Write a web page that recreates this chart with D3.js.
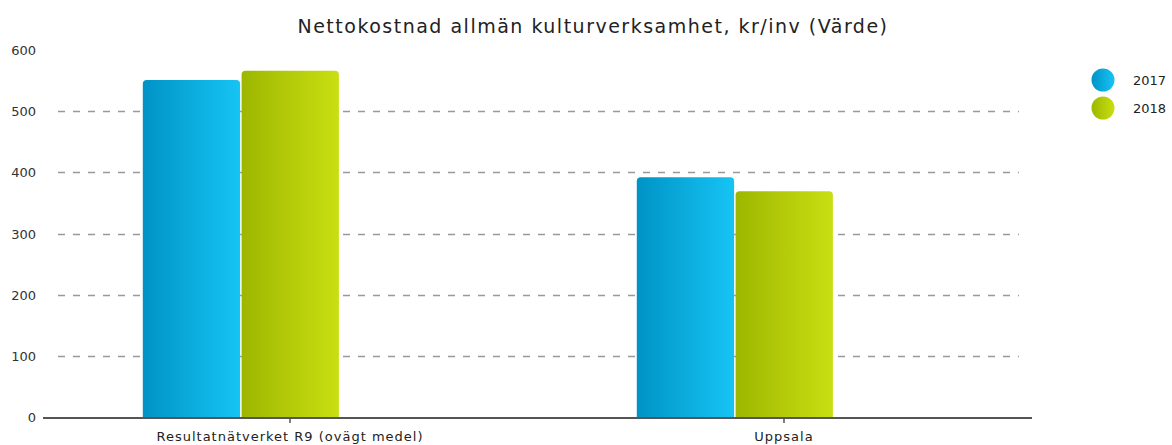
<!DOCTYPE html>
<html>
<head>
<meta charset="utf-8">
<script src="https://cdn.jsdelivr.net/npm/d3@7"></script>
<style>
  html, body { margin: 0; padding: 0; background: #fff; }
  svg { display: block; font-family: "DejaVu Sans", sans-serif; }
</style>
</head>
<body>
<svg id="chart" width="1172" height="445"></svg>
<script>
// Nettokostnad allmän kulturverksamhet — grupperade staplar per år
const TITLE = 'Nettokostnad allmän kulturverksamhet, kr/inv (Värde)';
const categories = ['Resultatnätverket R9 (ovägt medel)', 'Uppsala'];
const years = ['2017', '2018'];
const values2017 = [551, 392];
const values2018 = [566, 369];
const yTicks = [0, 100, 200, 300, 400, 500, 600];

const W = 1172, H = 445;
const m = { left: 43, right: 141, top: 50, bottom: 28 };
const svg = d3.select('#chart');

const defs = svg.append('defs');
const grads = {
  '2017': ['#0093c6', '#16c4f4'],
  '2018': ['#9db700', '#c9df12']
};
years.forEach(yr => {
  const g = defs.append('linearGradient').attr('id', 'g' + yr)
    .attr('x1', '0%').attr('x2', '100%').attr('y1', '0%').attr('y2', '0%');
  g.append('stop').attr('offset', '0%').attr('stop-color', grads[yr][0]);
  g.append('stop').attr('offset', '100%').attr('stop-color', grads[yr][1]);
});

const x0 = d3.scaleBand().domain(categories).range([m.left, W - m.right])
  .paddingInner(0.4).paddingOuter(0.2);
// tre platser per grupp, den tredje står tom (som i originalet)
const x1 = d3.scaleBand().domain([...years, '']).range([0, x0.bandwidth()]);
const y = d3.scaleLinear().domain([0, 600]).range([H - m.bottom, m.top]);

// titel
svg.append('text').attr('x', 593).attr('y', 33).attr('text-anchor', 'middle')
  .style('font-size', '19px').style('letter-spacing', '1.5px')
  .attr('fill', '#222').text(TITLE);

// stödlinjer
svg.append('g').selectAll('line').data(yTicks.filter(t => t > 0 && t < 600)).join('line')
  .attr('x1', 58).attr('x2', 1019)
  .attr('y1', d => Math.round(y(d)) + 0.5).attr('y2', d => Math.round(y(d)) + 0.5)
  .attr('stroke', '#999').attr('stroke-width', 1.3).attr('stroke-dasharray', '7,8');

// y-etiketter
svg.append('g').selectAll('text').data(yTicks).join('text')
  .attr('x', 36).attr('y', d => y(d) + 5).attr('text-anchor', 'end')
  .style('font-size', '13px').attr('fill', '#333').text(d => d);

// staplar
const series = [values2017, values2018];
const rounded = (x, yTop, w, h, r) =>
  `M${x},${yTop + h}V${yTop + r}Q${x},${yTop} ${x + r},${yTop}H${x + w - r}Q${x + w},${yTop} ${x + w},${yTop + r}V${yTop + h}Z`;
const gBars = svg.append('g');
categories.forEach((c, ci) => {
  years.forEach((yr, si) => {
    const v = series[si][ci];
    const bx = x0(c) + x1(yr) + 1;
    const bw = x1.bandwidth() - 1.5;
    const top = y(v), h = y(0) - y(v);
    gBars.append('path').attr('d', rounded(bx, top, bw, h, 4))
      .attr('fill', `url(#g${yr})`);
  });
});

// x-axel
svg.append('line').attr('x1', m.left).attr('x2', W - m.right + 1)
  .attr('y1', y(0) + 1).attr('y2', y(0) + 1)
  .attr('stroke', '#555').attr('stroke-width', 2);
svg.append('g').selectAll('line').data(categories).join('line')
  .attr('x1', d => x0(d) + x0.bandwidth() / 2).attr('x2', d => x0(d) + x0.bandwidth() / 2)
  .attr('y1', y(0) + 1).attr('y2', y(0) + 6)
  .attr('stroke', '#555').attr('stroke-width', 1.5);
svg.append('g').selectAll('text').data(categories).join('text')
  .attr('x', d => x0(d) + x0.bandwidth() / 2).attr('y', 441)
  .attr('text-anchor', 'middle').style('font-size', '13px').style('letter-spacing', '1px')
  .attr('fill', '#222').text(d => d);

// legend
const lg = svg.append('g').selectAll('g').data(years).join('g')
  .attr('transform', (d, i) => `translate(1103,${80 + i * 28})`);
lg.append('circle').attr('r', 11.5).attr('fill', d => `url(#g${d})`);
lg.append('text').attr('x', 30).attr('y', 5).style('font-size', '13px')
  .attr('fill', '#222').text(d => d);
</script>
</body>
</html>
